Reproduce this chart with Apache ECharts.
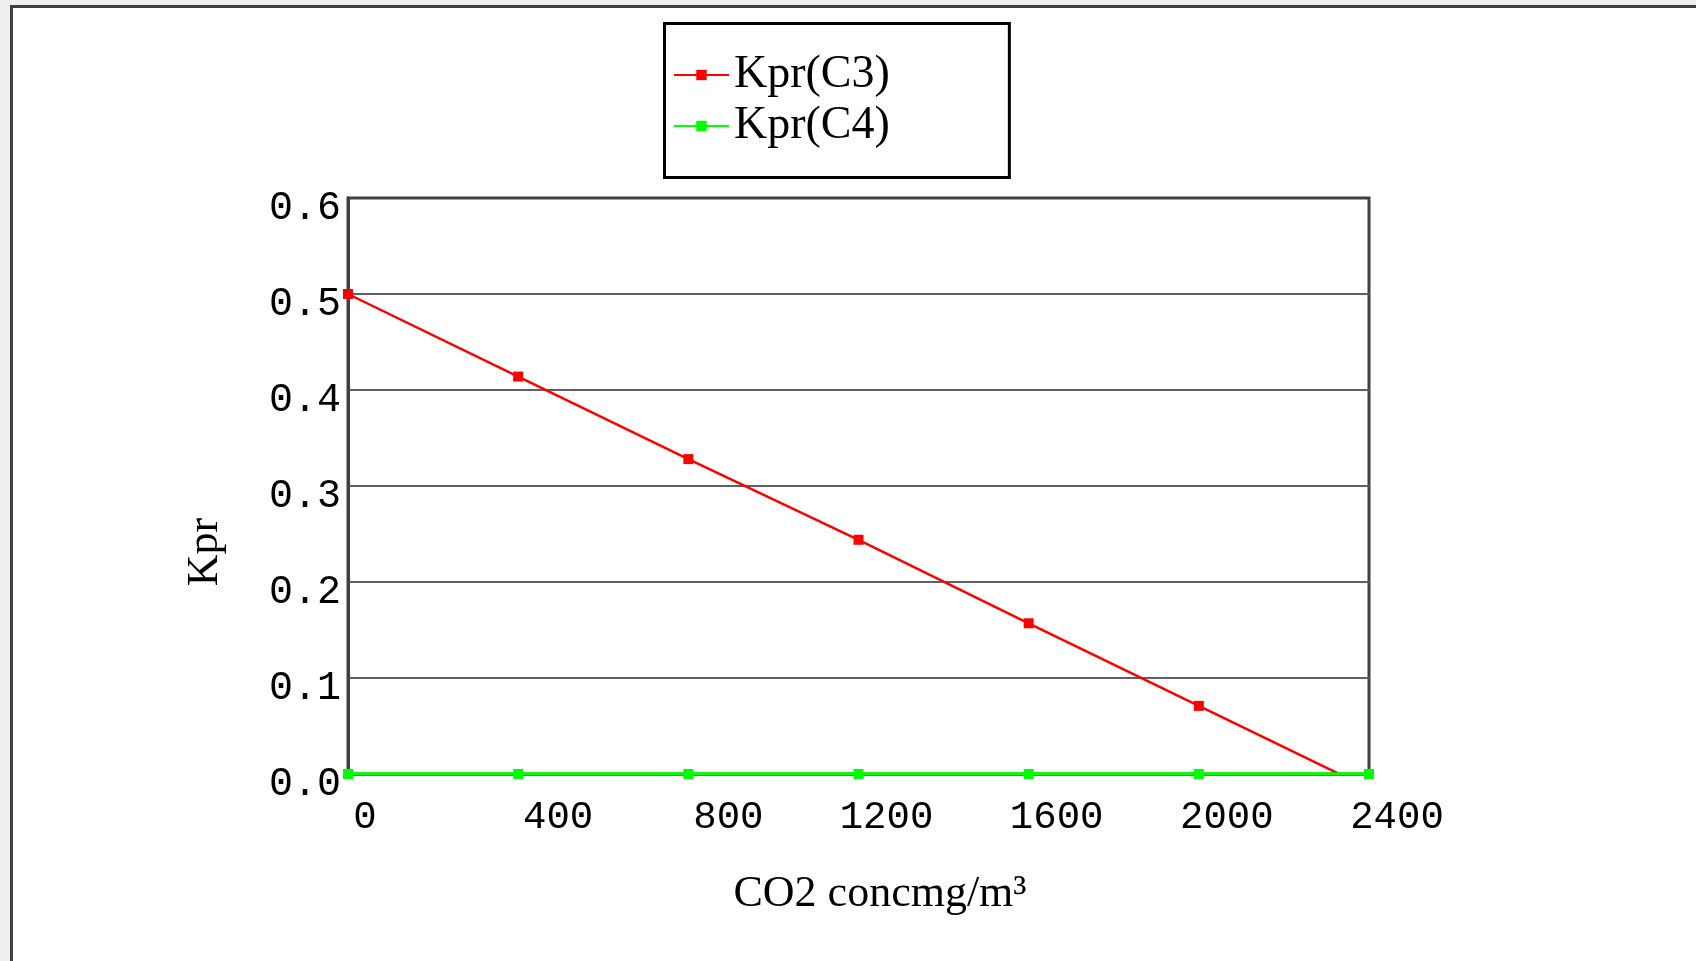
<!DOCTYPE html>
<html>
<head>
<meta charset="utf-8">
<script src="https://cdn.jsdelivr.net/npm/echarts@6/dist/echarts.min.js"></script>
<style>
  html, body { margin: 0; padding: 0; width: 1696px; height: 961px; overflow: hidden; background: #efefef; }
  #frame { position: absolute; left: 10px; top: 5px; width: 1700px; height: 970px; background: #ffffff;
           border-left: 3px solid #404040; border-top: 3px solid #404040; }
  #chart { position: absolute; left: 0; top: 0; width: 1696px; height: 961px; }
</style>
</head>
<body>
<div id="frame"></div>
<div id="chart"></div>
<script>
// ---- data ----
const co2Conc = [0, 400, 800, 1200, 1600, 2000, 2400];
const kprC3 = [0.500, 0.414, 0.328, 0.244, 0.157, 0.071, -0.015];
const kprC4 = [0, 0, 0, 0, 0, 0, 0];
const seriesNames = ['Kpr(C3)', 'Kpr(C4)'];
const xTitle = 'CO2 concmg/m\u00B3';
const yTitle = 'Kpr';

const pairs = (xs, ys) => xs.map((x, i) => [x, ys[i]]);

const chart = echarts.init(document.getElementById('chart'), null, { renderer: 'canvas' });
const serif = 'Liberation Serif';
const mono = 'Liberation Mono';

chart.setOption({
  backgroundColor: 'transparent',
  animation: false,
  legend: {
    left: 664.5, top: 23.5,
    orient: 'vertical',
    padding: [28.5, 119.5, 28.5, 8.5],
    borderColor: '#000000', borderWidth: 3,
    itemWidth: 55, itemHeight: 13, itemGap: 5,
    textStyle: { fontFamily: serif, fontSize: 46, lineHeight: 46, color: '#000000' },
    data: seriesNames
  },
  grid: {
    left: 348, right: 327, top: 198, bottom: 187,
    show: true, borderColor: '#404040', borderWidth: 3, backgroundColor: 'transparent'
  },
  xAxis: {
    type: 'value', min: 0, max: 2400, interval: 400,
    name: xTitle, nameLocation: 'middle', nameGap: 98,
    nameTextStyle: { fontFamily: serif, fontSize: 44, color: '#000000', padding: [0, 0, 0, 43] },
    axisLine: { show: true, lineStyle: { color: '#404040', width: 3 } },
    axisTick: { show: true, inside: true, length: 5, lineStyle: { color: '#000000', width: 2 } },
    splitLine: { show: false },
    axisLabel: {
      margin: 24, verticalAlign: 'top', color: '#000000', fontFamily: mono, fontSize: 39,
      formatter: v => v === 0 ? '{a|' + v + '}' : (v <= 800 ? '{b|' + v + '}' : '{c|' + v + '}'),
      rich: {
        a: { fontFamily: mono, fontSize: 39, color: '#000000', padding: [0, 0, 0, 34] },
        b: { fontFamily: mono, fontSize: 39, color: '#000000', padding: [0, 0, 0, 80] },
        c: { fontFamily: mono, fontSize: 39, color: '#000000', padding: [0, 0, 0, 56] }
      }
    }
  },
  yAxis: {
    type: 'value', min: 0, max: 0.6, interval: 0.1,
    name: yTitle, nameLocation: 'middle', nameGap: 121,
    nameTextStyle: { fontFamily: serif, fontSize: 44, color: '#000000', padding: [0, 132, 0, 0] },
    axisLine: { show: true, lineStyle: { color: '#404040', width: 3 } },
    axisTick: { show: false },
    splitLine: { show: true, showMinLine: false, showMaxLine: false, lineStyle: { color: '#606060', width: 2 } },
    axisLabel: {
      margin: 7, color: '#000000',
      formatter: v => '{v|' + v.toFixed(1) + '}',
      rich: {
        v: { fontFamily: mono, fontSize: 40, color: '#000000', padding: [20, 0, 0, 0] }
      }
    }
  },
  series: [
    {
      name: seriesNames[0], type: 'line', data: pairs(co2Conc, kprC3),
      symbol: 'rect', symbolSize: 10, showAllSymbol: true, clip: true,
      lineStyle: { color: '#ff0000', width: 2.5 }, itemStyle: { color: '#ff0000' }
    },
    {
      name: seriesNames[1], type: 'line', data: pairs(co2Conc, kprC4),
      symbol: 'rect', symbolSize: 10, showAllSymbol: true, clip: true,
      lineStyle: { color: '#00ff00', width: 3.5 }, itemStyle: { color: '#00ff00' }
    }
  ]
});
</script>
</body>
</html>
